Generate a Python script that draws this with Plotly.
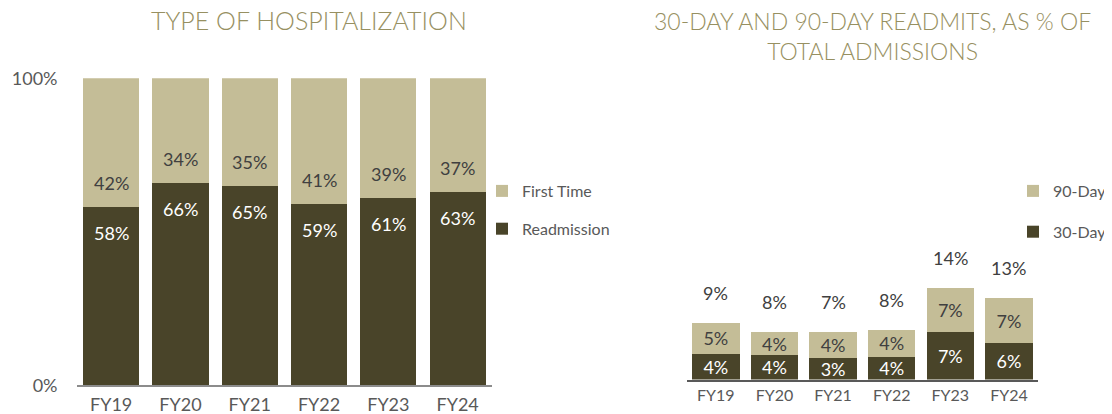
import plotly.graph_objects as go

# ---------------- data ----------------
years = ["FY19", "FY20", "FY21", "FY22", "FY23", "FY24"]

# Left chart: type of hospitalization (share of admissions, %)
readmission = [58, 66, 65, 59, 61, 63]
first_time = [42, 34, 35, 41, 39, 37]

# Right chart: readmits as % of total admissions
day30 = [4.0, 3.8, 3.37, 3.55, 7.44, 5.74]
day90 = [5.0, 3.75, 4.07, 4.31, 6.96, 7.13]
total_labels = ["9%", "8%", "7%", "8%", "14%", "13%"]

left_ticks = [0, 100]
left_ticktext = ["0%", "100%"]

# ---------------- style ----------------
TAN = "#c4bd97"
DARK = "#494429"
TITLE_C = "#979061"
TXT = "#595959"
LBL = "#404040"
FONT = "Lato"

# page has an 8px body margin: figure is drawn from (8, 8)
OFF = 8
W, H = 1112 - OFF, 414 - OFF


def px(x):
    return (x - OFF) / W


def py(y):
    return 1 - (y - OFF) / H


fig = go.Figure()

# Left chart
fig.add_trace(go.Bar(x=years, y=readmission, name="Readmission", marker_color=DARK,
                     xaxis="x", yaxis="y", legend="legend", legendgroup="a",
                     legendrank=2, hoverinfo="skip"))
fig.add_trace(go.Bar(x=years, y=first_time, name="First Time", marker_color=TAN,
                     xaxis="x", yaxis="y", legend="legend", legendgroup="b",
                     legendrank=1, hoverinfo="skip"))

# Right chart
fig.add_trace(go.Bar(x=years, y=day30, name="30-Day", marker_color=DARK,
                     xaxis="x2", yaxis="y2", legend="legend2", legendgroup="c",
                     legendrank=2,
                     text=[f"{v:.0f}%" for v in day30], textposition="inside",
                     insidetextanchor="middle", constraintext="none",
                     textfont=dict(color="white", size=18, family=FONT),
                     hoverinfo="skip"))
fig.add_trace(go.Bar(x=years, y=day90, name="90-Day", marker_color=TAN,
                     xaxis="x2", yaxis="y2", legend="legend2", legendgroup="d",
                     legendrank=1,
                     text=[f"{v:.0f}%" for v in day90], textposition="inside",
                     insidetextanchor="middle", constraintext="none",
                     textfont=dict(color=LBL, size=18, family=FONT),
                     hoverinfo="skip"))

annotations = []
# left chart data labels
for x, r, f in zip(years, readmission, first_time):
    annotations.append(dict(x=x, y=r, xref="x", yref="y", text=f"{r}%", showarrow=False,
                            yshift=-26, yanchor="middle",
                            font=dict(color="white", size=18, family=FONT)))
    annotations.append(dict(x=x, y=r, xref="x", yref="y", text=f"{f}%", showarrow=False,
                            yshift=24, yanchor="middle",
                            font=dict(color=LBL, size=18, family=FONT)))
# right chart totals
for x, a, b, t in zip(years, day30, day90, total_labels):
    annotations.append(dict(x=x, y=a + b, xref="x2", yref="y2", text=t, showarrow=False,
                            yshift=30, yanchor="middle",
                            font=dict(color=LBL, size=18, family=FONT)))
# titles
annotations.append(dict(x=px(309), y=py(19.5), xref="paper", yref="paper",
                        text="TYPE OF HOSPITALIZATION", showarrow=False,
                        xanchor="center", yanchor="middle",
                        font=dict(color=TITLE_C, size=25, family=FONT, weight=300)))
annotations.append(dict(x=px(872.5), y=py(35.5), xref="paper", yref="paper",
                        text="30-DAY AND 90-DAY READMITS, AS % OF<br>TOTAL ADMISSIONS",
                        showarrow=False, xanchor="center", yanchor="middle",
                        font=dict(color=TITLE_C, size=23, family=FONT, weight=300)))

fig.update_layout(
    width=W, height=H,
    margin=dict(l=0, r=0, t=0, b=0, autoexpand=False),
    paper_bgcolor="white", plot_bgcolor="white",
    barmode="stack", bargap=0.19,
    font=dict(family=FONT, color=TXT),
    annotations=annotations,
    xaxis=dict(domain=[px(76.5), px(492.3)], anchor="y", automargin=False,
               showline=True, linecolor="#8c8c8c", linewidth=2,
               ticks="", ticklabelstandoff=2,
               tickfont=dict(size=18, color=TXT, family=FONT),
               showgrid=False, fixedrange=True),
    yaxis=dict(domain=[py(385.3), py(78.3)], anchor="x",
               automargin=False,
               range=[0, 100], tickvals=left_ticks, ticktext=left_ticktext,
               showgrid=True, gridcolor="#d9d9d9", gridwidth=2, zeroline=False,
               showline=False, ticks="", ticklabelstandoff=18,
               tickfont=dict(size=18, color=TXT, family=FONT), fixedrange=True),
    xaxis2=dict(domain=[px(686.5), px(1038.3)], anchor="y2", automargin=False,
                showline=True, linecolor="#595959", linewidth=2,
                ticks="", tickfont=dict(size=16, color=TXT, family=FONT),
                showgrid=False, fixedrange=True),
    yaxis2=dict(domain=[py(379.5), py(78.3)], anchor="x2",
                automargin=False,
                range=[0, (379.5 - 78.3) / 6.32], visible=False, fixedrange=True),
    legend=dict(x=px(482), y=py(174), xanchor="left", yanchor="top",
                traceorder="grouped", tracegroupgap=14,
                font=dict(size=16, color=TXT, family=FONT), bgcolor="rgba(0,0,0,0)"),
    legend2=dict(x=px(1013), y=py(174), xanchor="left", yanchor="top",
                 traceorder="grouped", tracegroupgap=17,
                 font=dict(size=16, color=TXT, family=FONT), bgcolor="rgba(0,0,0,0)"),
    showlegend=True,
)
fig.update_traces(selector=dict(type="bar"), marker_line_width=0)

fig.write_html("out.html")
